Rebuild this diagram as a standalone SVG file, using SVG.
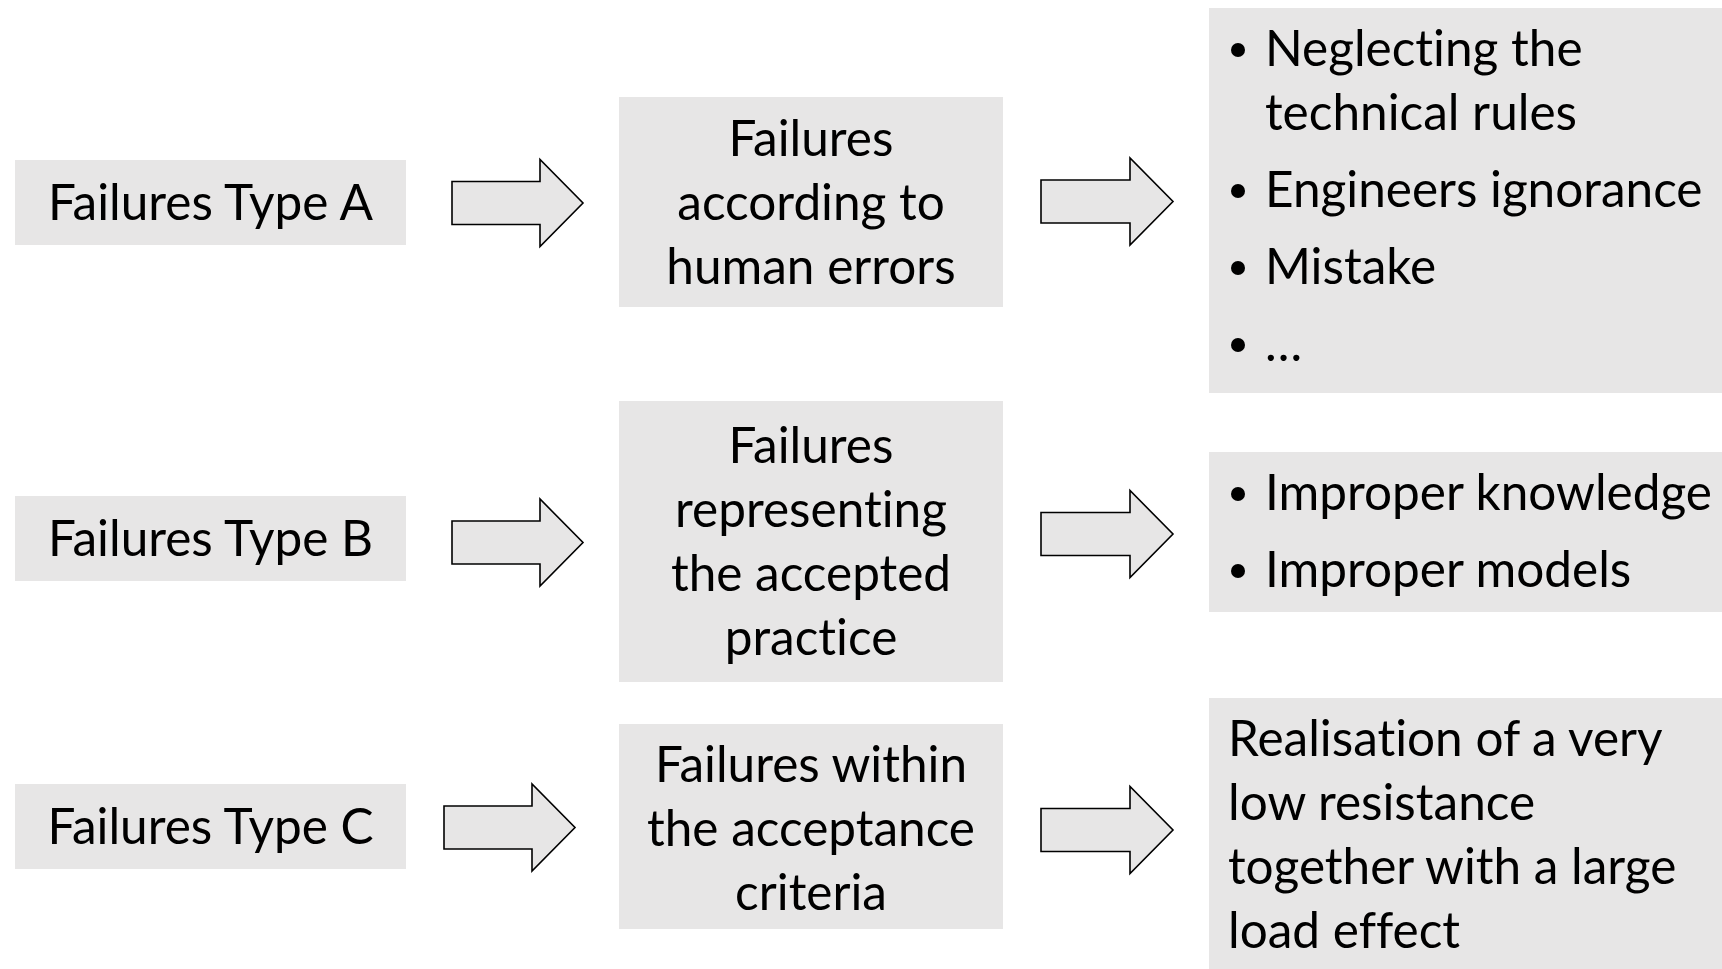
<svg xmlns="http://www.w3.org/2000/svg" width="1722" height="969" viewBox="0 0 1722 969">
<style>
.box{fill:#e7e6e6;stroke:none}
.arr{fill:#e7e6e6;stroke:#000;stroke-width:1.6;stroke-linejoin:miter}
text{font-family:Lato,"Open Sans","Liberation Sans",sans-serif;font-size:49.5px;fill:#000;font-variant-ligatures:none}
.c{text-anchor:middle}
.dot{fill:#000}
</style>
<rect width="1722" height="969" fill="#fff"/>
<g id="connectors">
<path class="arr" d="M452,181.5 H540 V159.5 L583,203 L540,246.5 V224.5 H452 Z"/>
<path class="arr" d="M1041,180 H1130 V158 L1173,201.5 L1130,245 V223 H1041 Z"/>
<path class="arr" d="M452,521 H540 V499 L583,542.5 L540,586 V564 H452 Z"/>
<path class="arr" d="M1041,512.5 H1130 V490.5 L1173,534 L1130,577.5 V555.5 H1041 Z"/>
<path class="arr" d="M444,806 H532 V784 L575,827.5 L532,871 V849 H444 Z"/>
<path class="arr" d="M1041,808.5 H1130 V786.5 L1173,830 L1130,873.5 V851.5 H1041 Z"/>
</g>
<g id="typeA">
<rect class="box" x="15" y="160" width="391" height="85"/>
<text class="c" x="210.5" y="220">Failures Type A</text>
</g>
<g id="typeB">
<rect class="box" x="15" y="496" width="391" height="85"/>
<text class="c" x="210.5" y="556">Failures Type B</text>
</g>
<g id="typeC">
<rect class="box" x="15" y="784" width="391" height="85"/>
<text class="c" x="210.5" y="844">Failures Type C</text>
</g>
<g id="humanErrors">
<rect class="box" x="619" y="97" width="384" height="210"/>
<text class="c" x="811" y="156">Failures</text>
<text class="c" x="811" y="220">according to</text>
<text class="c" x="811" y="284">human errors</text>
</g>
<g id="acceptedPractice">
<rect class="box" x="619" y="401" width="384" height="281"/>
<text class="c" x="811" y="463">Failures</text>
<text class="c" x="811" y="527">representing</text>
<text class="c" x="811" y="591">the accepted</text>
<text class="c" x="811" y="655">practice</text>
</g>
<g id="acceptanceCriteria">
<rect class="box" x="619" y="724" width="384" height="205"/>
<text class="c" x="811" y="782">Failures within</text>
<text class="c" x="811" y="846">the acceptance</text>
<text class="c" x="811" y="910">criteria</text>
</g>
<g id="causesA">
<rect class="box" x="1209" y="8" width="513" height="385"/>
<circle class="dot" cx="1238" cy="50" r="7"/>
<text x="1265" y="66">Neglecting the</text>
<text x="1265" y="130">technical rules</text>
<circle class="dot" cx="1238" cy="191" r="7"/>
<text x="1265" y="207">Engineers ignorance</text>
<circle class="dot" cx="1238" cy="268" r="7"/>
<text x="1265" y="284">Mistake</text>
<circle class="dot" cx="1238" cy="345" r="7"/>
<text x="1265" y="361">…</text>
</g>
<g id="causesB">
<rect class="box" x="1209" y="452" width="513" height="160"/>
<circle class="dot" cx="1238" cy="494" r="7"/>
<text x="1265" y="510">Improper knowledge</text>
<circle class="dot" cx="1238" cy="571" r="7"/>
<text x="1265" y="587">Improper models</text>
</g>
<g id="causesC">
<rect class="box" x="1209" y="698" width="513" height="271"/>
<text x="1228" y="756">Realisation of a very</text>
<text x="1228" y="820">low resistance</text>
<text x="1228" y="884">together with a large</text>
<text x="1228" y="948">load effect</text>
</g>
</svg>
